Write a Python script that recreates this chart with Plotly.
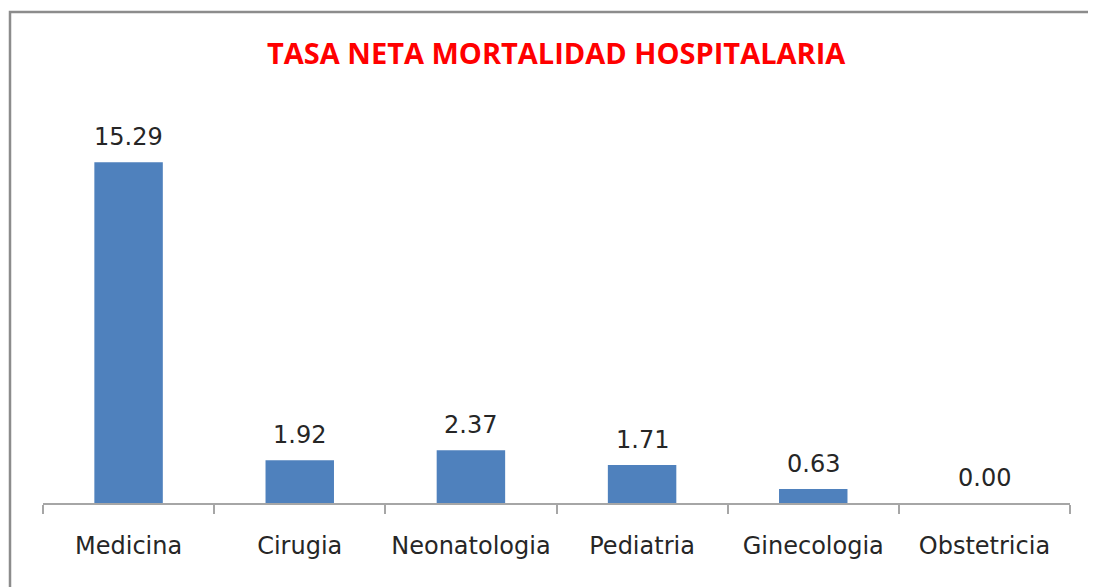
import plotly.graph_objects as go

categories = ["Medicina", "Cirugia", "Neonatologia", "Pediatria", "Ginecologia", "Obstetricia"]
values = [15.29, 1.92, 2.37, 1.71, 0.63, 0.00]
title_text = "TASA NETA MORTALIDAD HOSPITALARIA"

BAR_COLOR = "#4F81BD"
TEXT_COLOR = "#262626"
FONT = "DejaVu Sans, sans-serif"
TITLE_FONT = "Open Sans, sans-serif"

# page body margin offset (figure is drawn at 8,8 in the page)
OFF = 8
W, H = 1096, 587
L = 43 - OFF
R = W - (1070 - OFF)
B = H - (503 - OFF)
T = (503 - OFF) - 401
pw = W - L - R
ph = H - T - B


def px_to_paper_x(px):
    return (px - OFF - L) / pw


def px_to_paper_y(py):
    return (H - B - (py - OFF)) / ph


fig = go.Figure()
fig.add_trace(go.Bar(
    x=categories, y=values, marker=dict(color=BAR_COLOR, line=dict(width=0)),
    width=0.4, hoverinfo="skip",
))

for c, v in zip(categories, values):
    fig.add_annotation(
        x=c, y=v, text=f"{v:.2f}", showarrow=False, yanchor="bottom",
        yshift=9, font=dict(family=FONT, size=24, color=TEXT_COLOR),
    )

fig.add_annotation(
    x=0.5, xref="paper", y=px_to_paper_y(52), yref="paper", text=f"<b>{title_text}</b>",
    showarrow=False, font=dict(family=TITLE_FONT, size=29, color="#FF0000"),
    xanchor="center", yanchor="middle",
)

fig.add_shape(
    type="rect", xref="paper", yref="paper",
    x0=px_to_paper_x(10), x1=px_to_paper_x(1120),
    y0=px_to_paper_y(640), y1=px_to_paper_y(12),
    line=dict(color="#8C8C8C", width=2.5), fillcolor="rgba(0,0,0,0)", layer="below",
)

fig.update_layout(
    width=W, height=H,
    margin=dict(l=L, r=R, t=T, b=B, pad=0),
    paper_bgcolor="white", plot_bgcolor="white",
    showlegend=False,
    xaxis=dict(
        showline=True, linecolor="#A6A6A6", linewidth=1.5,
        ticks="outside", ticklen=9, tickcolor="#A6A6A6", tickwidth=1.5,
        tickson="boundaries", showgrid=False,
        tickfont=dict(family=FONT, size=24, color=TEXT_COLOR),
        ticklabelstandoff=20,
    ),
    yaxis=dict(
        range=[0, 18], visible=False, showgrid=False, zeroline=False,
    ),
)

fig.write_html("out.html")
